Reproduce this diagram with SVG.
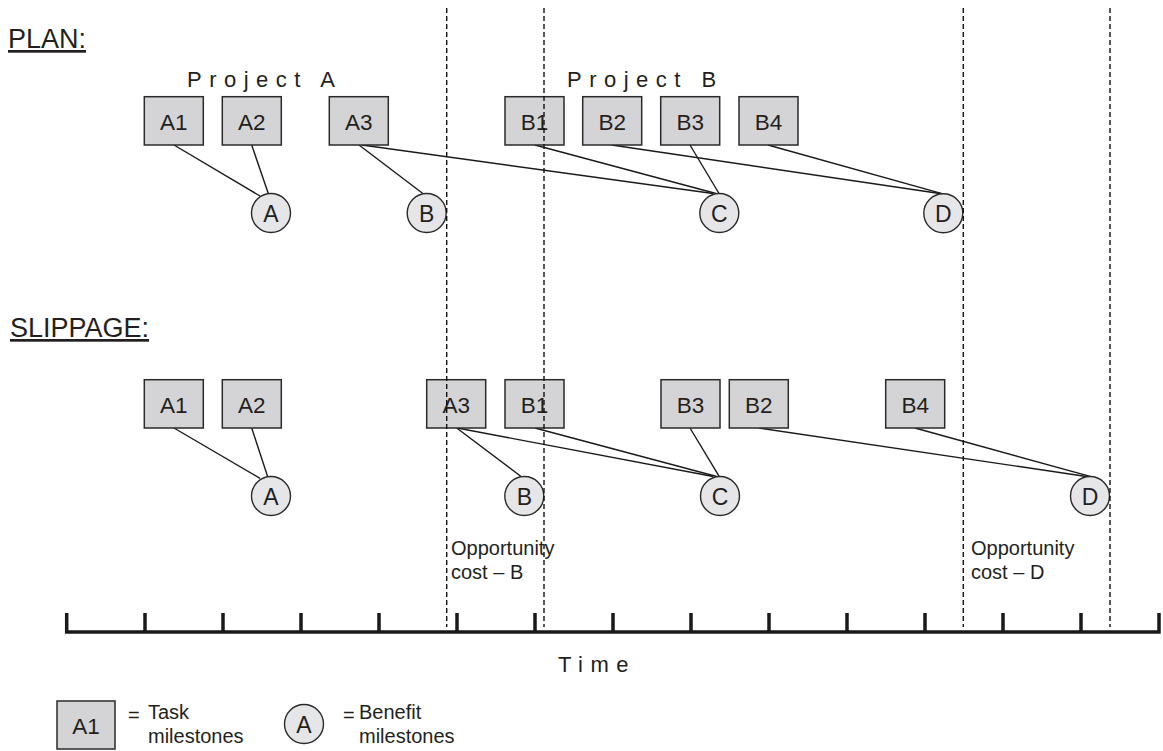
<svg xmlns="http://www.w3.org/2000/svg" width="1163" height="751" viewBox="0 0 1163 751">
<style>
text{font-family:"Liberation Sans",Arial,sans-serif;fill:#231f20}
.box{fill:#d4d4d6;stroke:#2a2a2a;stroke-width:1.5}
.ben{fill:#e6e6e8;stroke:#2a2a2a;stroke-width:1.4}
.bl{font-size:22.5px;text-anchor:middle}
.cl{font-size:23px;text-anchor:middle}
.head{font-size:27px;text-decoration:underline}
.proj{font-size:22px;letter-spacing:7.5px}
.note{font-size:20px}
.conn line{stroke:#1a1a1a;stroke-width:1.4}
.dash line{stroke:#111;stroke-width:1.4;stroke-dasharray:5 3}
.axis{fill:none;stroke:#1a1a1a;stroke-width:3.5;stroke-linejoin:miter}
</style>

<text class="head" x="8" y="48">PLAN:</text>
<text class="head" x="10" y="337">SLIPPAGE:</text>
<text class="proj" x="187" y="87">Project A</text>
<text class="proj" x="567" y="87">Project B</text>

<g id="connectors" class="conn">
<line x1="174" y1="145" x2="260" y2="196"/>
<line x1="251.7" y1="145" x2="268.3" y2="193.5"/>
<line x1="359" y1="145" x2="423.5" y2="194"/>
<line x1="362" y1="145" x2="713" y2="193.5"/>
<line x1="535" y1="145" x2="716" y2="193.5"/>
<line x1="690" y1="145" x2="719" y2="193.5"/>
<line x1="611.7" y1="145" x2="941.5" y2="193.8"/>
<line x1="768" y1="145" x2="943" y2="193.8"/>
<line x1="174" y1="428" x2="260" y2="478.3"/>
<line x1="251.7" y1="428" x2="267.7" y2="476.7"/>
<line x1="456.7" y1="428" x2="521.7" y2="477"/>
<line x1="457.3" y1="428" x2="713.3" y2="476.5"/>
<line x1="535" y1="428" x2="716.7" y2="476.5"/>
<line x1="690" y1="428" x2="719.3" y2="476.7"/>
<line x1="759" y1="428" x2="1088" y2="476.7"/>
<line x1="915" y1="428" x2="1091" y2="476.7"/>
</g>

<g id="plan-A1"><rect class="box" x="144.3" y="96.7" width="59" height="48.3"/><text class="bl" x="173.8" y="130.2">A1</text></g>
<g id="plan-A2"><rect class="box" x="222.3" y="96.7" width="59" height="48.3"/><text class="bl" x="251.8" y="130.2">A2</text></g>
<g id="plan-A3"><rect class="box" x="329.3" y="96.7" width="59" height="48.3"/><text class="bl" x="358.8" y="130.2">A3</text></g>
<g id="plan-B1"><rect class="box" x="505" y="96.7" width="59" height="48.3"/><text class="bl" x="534.5" y="130.2">B1</text></g>
<g id="plan-B2"><rect class="box" x="582.7" y="96.7" width="59" height="48.3"/><text class="bl" x="612.2" y="130.2">B2</text></g>
<g id="plan-B3"><rect class="box" x="660.7" y="96.7" width="59" height="48.3"/><text class="bl" x="690.2" y="130.2">B3</text></g>
<g id="plan-B4"><rect class="box" x="739" y="96.7" width="59" height="48.3"/><text class="bl" x="768.5" y="130.2">B4</text></g>

<g id="plan-A"><circle class="ben" cx="271" cy="213" r="19.5"/><text class="cl" x="271" y="221.5">A</text></g>
<g id="plan-B"><circle class="ben" cx="426.7" cy="213" r="19.5"/><text class="cl" x="426.7" y="221.5">B</text></g>
<g id="plan-C"><circle class="ben" cx="719.3" cy="213" r="19.5"/><text class="cl" x="719.3" y="221.5">C</text></g>
<g id="plan-D"><circle class="ben" cx="943.3" cy="213.3" r="19.5"/><text class="cl" x="943.3" y="221.8">D</text></g>

<g id="slip-A1"><rect class="box" x="144.3" y="379.7" width="59" height="48.3"/><text class="bl" x="173.8" y="413.2">A1</text></g>
<g id="slip-A2"><rect class="box" x="222.3" y="379.7" width="59" height="48.3"/><text class="bl" x="251.8" y="413.2">A2</text></g>
<g id="slip-A3"><rect class="box" x="426.7" y="379.7" width="59" height="48.3"/><text class="bl" x="456.2" y="413.2">A3</text></g>
<g id="slip-B1"><rect class="box" x="505" y="379.7" width="59" height="48.3"/><text class="bl" x="534.5" y="413.2">B1</text></g>
<g id="slip-B3"><rect class="box" x="661" y="379.7" width="59" height="48.3"/><text class="bl" x="690.5" y="413.2">B3</text></g>
<g id="slip-B2"><rect class="box" x="729.3" y="379.7" width="59" height="48.3"/><text class="bl" x="758.8" y="413.2">B2</text></g>
<g id="slip-B4"><rect class="box" x="885.7" y="379.7" width="59" height="48.3"/><text class="bl" x="915.2" y="413.2">B4</text></g>

<g id="slip-A"><circle class="ben" cx="271" cy="496" r="19.5"/><text class="cl" x="271" y="504.5">A</text></g>
<g id="slip-B"><circle class="ben" cx="524.3" cy="496" r="19.5"/><text class="cl" x="524.3" y="504.5">B</text></g>
<g id="slip-C"><circle class="ben" cx="720" cy="496" r="19.5"/><text class="cl" x="720" y="504.5">C</text></g>
<g id="slip-D"><circle class="ben" cx="1090" cy="496" r="19.5"/><text class="cl" x="1090" y="504.5">D</text></g>

<g id="guides" class="dash">
<line x1="446.7" y1="8" x2="446.7" y2="627"/>
<line x1="544" y1="8" x2="544" y2="627"/>
<line x1="963.3" y1="8" x2="963.3" y2="627"/>
<line x1="1110" y1="8" x2="1110" y2="627"/>
</g>

<text class="note" x="451" y="555">Opportunity</text>
<text class="note" x="451" y="579">cost – B</text>
<text class="note" x="971" y="555">Opportunity</text>
<text class="note" x="971" y="579">cost – D</text>

<g id="timeline">
<path class="axis" d="M66.7,613 V632 H1159 V613 M145,613 V632 M223,613 V632 M301,613 V632 M379,613 V632 M457,613 V632 M535,613 V632 M613,613 V632 M691,613 V632 M769,613 V632 M847,613 V632 M925,613 V632 M1003,613 V632 M1081,613 V632"/>
</g>
<text class="proj" x="558" y="671.5">Time</text>

<g id="legend-task"><rect class="box" x="57" y="701" width="58" height="48"/><text class="bl" x="86" y="734">A1</text></g>
<text class="note" x="128" y="722">=</text>
<text class="note" x="148" y="719">Task</text>
<text class="note" x="148" y="743">milestones</text>
<g id="legend-benefit"><circle class="ben" cx="304" cy="724" r="19.5"/><text class="cl" x="304" y="732.5">A</text></g>
<text class="note" x="343" y="722">=</text>
<text class="note" x="359" y="719">Benefit</text>
<text class="note" x="359" y="743">milestones</text>
</svg>
